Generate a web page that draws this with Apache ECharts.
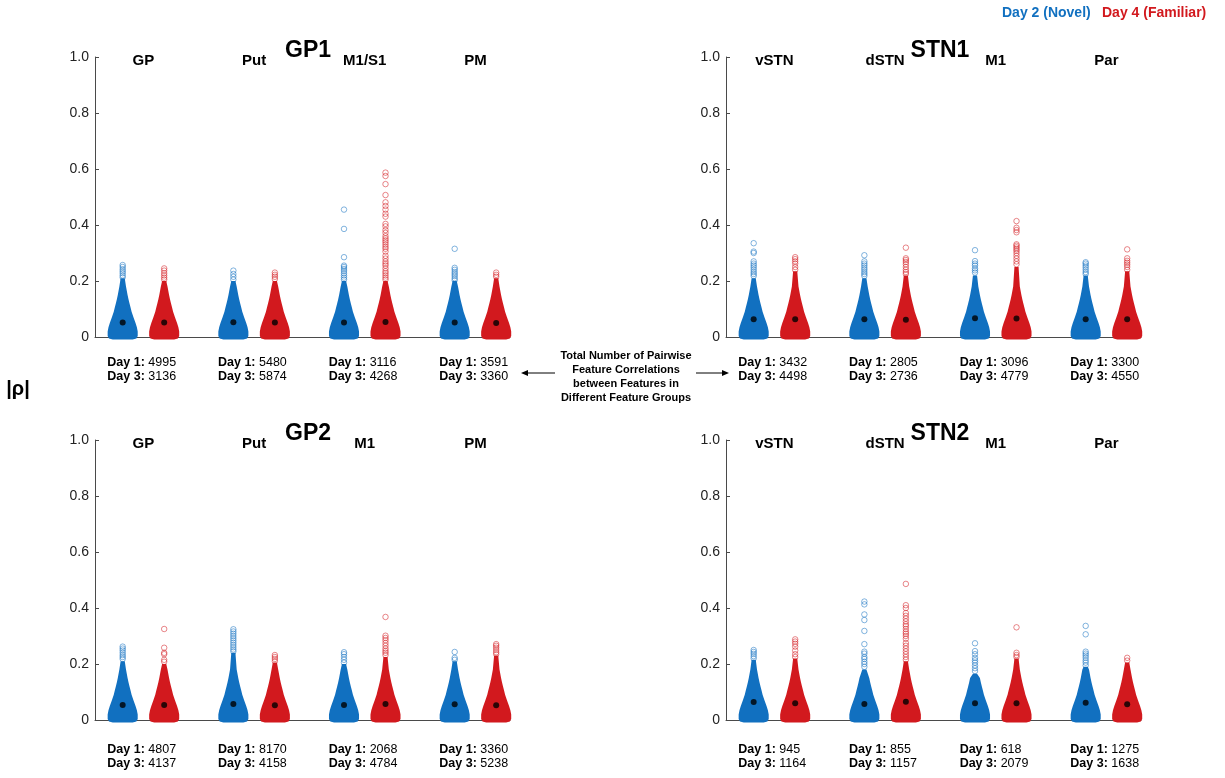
<!DOCTYPE html>
<html lang="en">
<head>
	<meta charset="UTF-8">
	<title>Pairwise feature correlations</title>
	<script src="https://cdn.jsdelivr.net/npm/echarts@6/dist/echarts.min.js"></script>
	<style>
		html, body {margin:0; padding:0; background:#fff;}
		#box {width:1225px; height:778px;}
	</style>
</head>
<body>
<div id="box"></div>
<script>
	// panels: GP1, STN1, GP2, STN2
	let panelTitles = ['GP1', 'STN1', 'GP2', 'STN2'];
	let groupNames = [
		['GP', 'Put', 'M1/S1', 'PM'],
		['vSTN', 'dSTN', 'M1', 'Par'],
		['GP', 'Put', 'M1', 'PM'],
		['vSTN', 'dSTN', 'M1', 'Par']
	];
	let day1Counts = [[4995, 5480, 3116, 3591], [3432, 2805, 3096, 3300], [4807, 8170, 2068, 3360], [945, 855, 618, 1275]];
	let day3Counts = [[3136, 5874, 4268, 3360], [4498, 2736, 4779, 4550], [4137, 4158, 4784, 5238], [1164, 1157, 2079, 1638]];

	// x position of each cloud on the axis
	let novelX = [1, 3.667, 6.333, 9];
	let familiarX = [2, 4.667, 7.333, 10];

	// medians (black dots)
	let medianNovel = [[0.052, 0.053, 0.052, 0.052], [0.063, 0.063, 0.067, 0.063], [0.054, 0.057, 0.054, 0.056], [0.064, 0.057, 0.06, 0.062]];
	let medianFamiliar = [[0.052, 0.052, 0.054, 0.05], [0.063, 0.062, 0.066, 0.063], [0.054, 0.053, 0.057, 0.053], [0.06, 0.065, 0.06, 0.056]];

	// where the dense body of each cloud ends
	let bodyTopNovel = [[0.21, 0.2, 0.2, 0.2], [0.21, 0.21, 0.22, 0.22], [0.21, 0.24, 0.2, 0.21], [0.215, 0.18, 0.165, 0.19]];
	let bodyTopFamiliar = [[0.2, 0.2, 0.2, 0.21], [0.235, 0.22, 0.25, 0.235], [0.2, 0.205, 0.225, 0.23], [0.22, 0.21, 0.22, 0.205]];

	// shape of the dense body: half width (x units) at |rho| levels
	let profileY = [-0.009, -0.005, 0.004, 0.02, 0.035, 0.05, 0.07, 0.09, 0.105, 0.12, 0.135, 0.15, 0.18];
	let profileHalfWidth = [0.24, 0.33, 0.362, 0.362, 0.342, 0.31, 0.262, 0.215, 0.19, 0.165, 0.14, 0.118, 0.08];
	let neckHalfWidth = 0.05;

	// single points above the body
	let outliersNovel = [
		[
			[0.257, 0.25, 0.242, 0.235, 0.228, 0.22, 0.213],
			[0.237, 0.225, 0.215, 0.205],
			[0.455, 0.386, 0.285, 0.255, 0.25, 0.243, 0.236, 0.228, 0.22, 0.212, 0.205],
			[0.315, 0.247, 0.24, 0.232, 0.225, 0.218, 0.21, 0.203]
		],
		[
			[0.335, 0.305, 0.3, 0.27, 0.262, 0.255, 0.248, 0.24, 0.232, 0.225, 0.218],
			[0.292, 0.27, 0.262, 0.255, 0.247, 0.24, 0.232, 0.225, 0.218],
			[0.31, 0.271, 0.262, 0.255, 0.245, 0.238, 0.23],
			[0.267, 0.262, 0.255, 0.248, 0.24, 0.232, 0.225]
		],
		[
			[0.262, 0.255, 0.248, 0.24, 0.232, 0.225, 0.218],
			[0.324, 0.316, 0.308, 0.3, 0.292, 0.284, 0.276, 0.268, 0.26, 0.252, 0.245],
			[0.242, 0.235, 0.225, 0.215, 0.205],
			[0.243, 0.222, 0.215]
		],
		[
			[0.25, 0.243, 0.236, 0.228, 0.22],
			[0.423, 0.413, 0.377, 0.357, 0.318, 0.271, 0.244, 0.237, 0.225, 0.218, 0.208, 0.2, 0.19],
			[0.274, 0.246, 0.235, 0.222, 0.213, 0.205, 0.195, 0.185, 0.175],
			[0.336, 0.306, 0.244, 0.237, 0.23, 0.222, 0.213, 0.205, 0.195]
		]
	];
	let outliersFamiliar = [
		[
			[0.245, 0.237, 0.228, 0.22, 0.212, 0.205],
			[0.23, 0.222, 0.215, 0.207],
			[0.587, 0.575, 0.546, 0.507, 0.481, 0.468, 0.455, 0.44, 0.43, 0.404, 0.395, 0.382, 0.372, 0.36, 0.352, 0.345, 0.338, 0.33, 0.322, 0.315, 0.305, 0.29, 0.28, 0.27, 0.262, 0.255, 0.245, 0.235, 0.228, 0.22, 0.212, 0.205],
			[0.23, 0.222, 0.215]
		],
		[
			[0.285, 0.278, 0.27, 0.262, 0.25, 0.24],
			[0.319, 0.281, 0.275, 0.268, 0.26, 0.25, 0.24, 0.232, 0.225],
			[0.414, 0.39, 0.382, 0.374, 0.331, 0.326, 0.32, 0.314, 0.308, 0.3, 0.29, 0.28, 0.27, 0.26],
			[0.313, 0.281, 0.272, 0.265, 0.258, 0.25, 0.24]
		],
		[
			[0.325, 0.258, 0.24, 0.235, 0.215, 0.208],
			[0.232, 0.225, 0.218, 0.21],
			[0.368, 0.301, 0.293, 0.285, 0.275, 0.265, 0.255, 0.247, 0.24, 0.232],
			[0.271, 0.265, 0.258, 0.25, 0.242, 0.235]
		],
		[
			[0.288, 0.28, 0.272, 0.262, 0.248, 0.235, 0.225],
			[0.486, 0.41, 0.4, 0.382, 0.372, 0.362, 0.352, 0.342, 0.335, 0.325, 0.315, 0.308, 0.3, 0.29, 0.275, 0.265, 0.255, 0.245, 0.235, 0.225, 0.215],
			[0.331, 0.24, 0.232, 0.225],
			[0.222, 0.212]
		]
	];

	let FONT = 'Liberation Sans, Arial, Helvetica, sans-serif';
	let BLUE = '#1170C0';
	let RED = '#D2191E';
	let BLUE_LIGHT = 'rgba(17,112,192,0.65)';
	let RED_LIGHT = 'rgba(210,25,30,0.65)';

	// label levels (in |rho| units) for each panel row
	let nameLevel = 0.986;
	let countLevels = [[-0.093, -0.143], [-0.093, -0.143], [-0.104, -0.154], [-0.104, -0.154]];
	let countIndent = 0.87;

	let grids = [
		{left: 95, top: 57, width: 415, height: 280},
		{left: 726, top: 57, width: 415, height: 280},
		{left: 95, top: 440, width: 415, height: 280},
		{left: 726, top: 440, width: 415, height: 280}
	];

	let xAxes = grids.map((g, i) => ({
		type: 'value', gridIndex: i, min: 0.333, max: 10.333,
		axisLine: {show: true, onZero: false, lineStyle: {color: '#4a4a4a', width: 1}},
		axisTick: {show: false}, axisLabel: {show: false}, splitLine: {show: false}
	}));
	let yAxes = grids.map((g, i) => ({
		type: 'value', gridIndex: i, min: 0, max: 1, interval: 0.2,
		axisLine: {show: true, lineStyle: {color: '#4a4a4a', width: 1}},
		axisTick: {show: true, inside: true, length: 4, lineStyle: {color: '#4a4a4a'}},
		axisLabel: {
			color: '#222', fontSize: 14, fontFamily: FONT, margin: 6,
			formatter: v => v === 0 ? '0' : v.toFixed(1)
		},
		splitLine: {show: false}
	}));

	function bodySeries(p) {
		let data = [];
		for (let g = 0; g < 4; g++) {
			data.push([novelX[g], bodyTopNovel[p][g], 0]);
			data.push([familiarX[g], bodyTopFamiliar[p][g], 1]);
		}
		return {
			type: 'custom', xAxisIndex: p, yAxisIndex: p, silent: true, clip: false, z: 2,
			data: data,
			renderItem: function (params, api) {
				let x = api.value(0), top = api.value(1), c = api.value(2);
				let right = [], left = [];
				for (let i = 0; i < profileY.length; i++) {
					if (profileY[i] >= top) break;
					right.push(api.coord([x + profileHalfWidth[i], profileY[i]]));
					left.unshift(api.coord([x - profileHalfWidth[i], profileY[i]]));
				}
				right.push(api.coord([x + neckHalfWidth, top]));
				left.unshift(api.coord([x - neckHalfWidth, top]));
				return {
					type: 'polygon',
					shape: {points: right.concat(left)},
					style: {fill: c === 0 ? BLUE : RED}
				};
			}
		};
	}

	function outlierSeries(p, xs, list, color) {
		let data = [];
		list[p].forEach((arr, g) => arr.forEach(v => data.push([xs[g], v])));
		return {
			type: 'scatter', xAxisIndex: p, yAxisIndex: p, silent: true, z: 3,
			symbol: 'circle', symbolSize: 5.5,
			itemStyle: {color: 'rgba(0,0,0,0)', borderColor: color, borderWidth: 1},
			data: data
		};
	}

	function medianSeries(p) {
		let data = [];
		for (let g = 0; g < 4; g++) {
			data.push([novelX[g], medianNovel[p][g]]);
			data.push([familiarX[g], medianFamiliar[p][g]]);
		}
		return {
			type: 'scatter', xAxisIndex: p, yAxisIndex: p, silent: true, z: 4,
			symbol: 'circle', symbolSize: 6,
			itemStyle: {color: '#000'},
			data: data
		};
	}

	function labelSeries(p) {
		return {
			type: 'custom', xAxisIndex: p, yAxisIndex: p, silent: true, clip: false, z: 5,
			data: groupNames[p].map((n, g) => [(novelX[g] + familiarX[g]) / 2, g]),
			renderItem: function (params, api) {
				let cx = api.value(0), g = api.value(1);
				let namePt = api.coord([cx, nameLevel]);
				let d1 = api.coord([cx - countIndent, countLevels[p][0]]);
				let d3 = api.coord([cx - countIndent, countLevels[p][1]]);
				let rich = {b: {fontWeight: 'bold', fontSize: 12.5, fontFamily: FONT, fill: '#000'}};
				return {
					type: 'group',
					children: [
						{type: 'text', x: namePt[0], y: namePt[1], style: {
							text: groupNames[p][g], fill: '#000', fontSize: 15, fontWeight: 'bold',
							fontFamily: FONT, align: 'center', verticalAlign: 'middle'}},
						{type: 'text', x: d1[0], y: d1[1], style: {
							text: '{b|Day 1:} ' + day1Counts[p][g], rich: rich, fill: '#000', fontSize: 12.5,
							fontFamily: FONT, align: 'left', verticalAlign: 'middle'}},
						{type: 'text', x: d3[0], y: d3[1], style: {
							text: '{b|Day 3:} ' + day3Counts[p][g], rich: rich, fill: '#000', fontSize: 12.5,
							fontFamily: FONT, align: 'left', verticalAlign: 'middle'}}
					]
				};
			}
		};
	}

	let series = [];
	for (let p = 0; p < 4; p++) {
		series.push(bodySeries(p));
		series.push(outlierSeries(p, novelX, outliersNovel, BLUE_LIGHT));
		series.push(outlierSeries(p, familiarX, outliersFamiliar, RED_LIGHT));
		series.push(medianSeries(p));
		series.push(labelSeries(p));
	}

	// panel titles and annotations
	let titlePos = [[308, 51], [940, 51], [308, 434], [940, 434]];
	let graphic = panelTitles.map((t, i) => ({
		type: 'text', x: titlePos[i][0], y: titlePos[i][1], z: 10,
		style: {text: t, fill: '#000', font: 'bold 23px ' + FONT, align: 'center', verticalAlign: 'middle'}
	}));
	graphic.push(
		{type: 'text', x: 1002, y: 13, style: {text: 'Day 2 (Novel)', fill: BLUE, font: 'bold 14px ' + FONT, verticalAlign: 'middle'}},
		{type: 'text', x: 1102, y: 13, style: {text: 'Day 4 (Familiar)', fill: RED, font: 'bold 14px ' + FONT, verticalAlign: 'middle'}},
		{type: 'text', x: 18, y: 389, style: {text: '|ρ|', fill: '#000', font: 'bold 20px ' + FONT, align: 'center', verticalAlign: 'middle'}},
		{type: 'text', x: 626, y: 377, style: {
			text: 'Total Number of Pairwise\nFeature Correlations\nbetween Features in\nDifferent Feature Groups',
			fill: '#000', font: 'bold 11px ' + FONT, lineHeight: 13.7, align: 'center', verticalAlign: 'middle'}},
		{type: 'line', shape: {x1: 524, y1: 373, x2: 555, y2: 373}, style: {stroke: '#000', lineWidth: 1}},
		{type: 'polygon', shape: {points: [[521, 373], [528, 370], [528, 376]]}, style: {fill: '#000'}},
		{type: 'line', shape: {x1: 696, y1: 373, x2: 726, y2: 373}, style: {stroke: '#000', lineWidth: 1}},
		{type: 'polygon', shape: {points: [[729, 373], [722, 370], [722, 376]]}, style: {fill: '#000'}}
	);

	let charts = echarts.init(document.getElementById('box'));
	charts.setOption({
		animation: false,
		backgroundColor: '#fff',
		grid: grids,
		xAxis: xAxes,
		yAxis: yAxes,
		series: series,
		graphic: graphic
	});
</script>
</body>
</html>
